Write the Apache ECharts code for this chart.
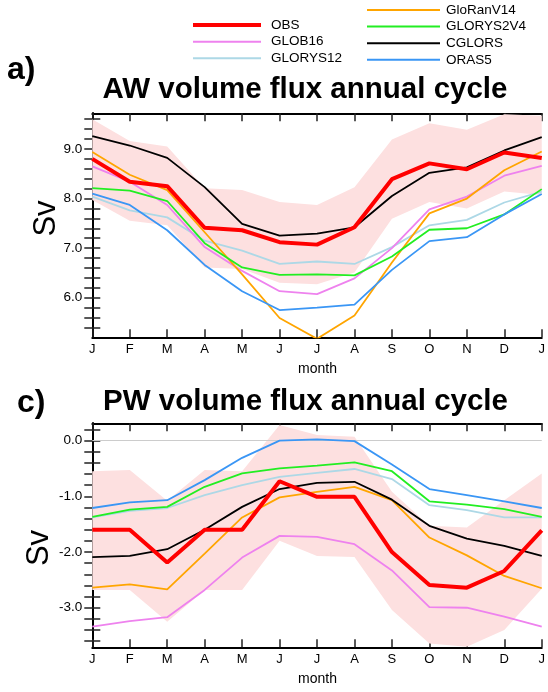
<!DOCTYPE html>
<html><head><meta charset="utf-8">
<script src="https://cdn.jsdelivr.net/npm/echarts@6/dist/echarts.min.js"></script>
<style>html,body{margin:0;padding:0;background:#fff}#c{width:548px;height:692px}</style>
</head><body><div id="c"></div>
<script>
const months = ['J','F','M','A','M','J','J','A','S','O','N','D','J'];
const names = ['OBS','GLOB16','GLORYS12','GloRanV14','GLORYS2V4','CGLORS','ORAS5'];

// AW volume flux (Sv)
const awOBS       = [8.80,8.34,8.25,7.41,7.36,7.12,7.07,7.42,8.39,8.71,8.59,8.93,8.82];
const awGLOB16    = [8.65,8.34,7.87,7.02,6.54,6.13,6.07,6.39,7.00,7.78,8.04,8.46,8.66];
const awGLORYS12  = [8.04,7.76,7.62,7.15,6.95,6.68,6.73,6.68,7.02,7.46,7.57,7.92,8.14];
const awGloRanV14 = [8.94,8.48,8.17,7.32,6.47,5.59,5.17,5.64,6.71,7.70,8.00,8.57,8.95];
const awGLORYS2V4 = [8.21,8.16,7.95,7.10,6.61,6.46,6.47,6.45,6.83,7.37,7.40,7.68,8.19];
const awCGLORS    = [9.26,9.07,8.82,8.23,7.49,7.25,7.29,7.42,8.05,8.52,8.63,8.97,9.24];
const awORAS5     = [8.10,7.87,7.36,6.66,6.13,5.75,5.80,5.86,6.56,7.14,7.22,7.68,8.09];
const awBandHi    = [9.60,9.16,9.05,8.21,8.17,7.93,7.87,8.23,9.19,9.52,9.39,9.70,9.67];
const awBandLo    = [7.97,7.55,7.46,6.61,6.58,6.30,6.27,6.51,7.59,7.93,7.80,8.14,8.07];

// PW volume flux (Sv)
const pwOBS       = [-1.60,-1.60,-2.19,-1.60,-1.60,-0.73,-1.01,-1.01,-2.00,-2.59,-2.64,-2.34,-1.61];
const pwGLOB16    = [-3.34,-3.24,-3.17,-2.68,-2.10,-1.71,-1.73,-1.86,-2.33,-2.99,-3.00,-3.16,-3.34];
const pwGLORYS12  = [-1.38,-1.26,-1.21,-0.98,-0.80,-0.65,-0.58,-0.51,-0.69,-1.16,-1.25,-1.38,-1.38];
const pwGloRanV14 = [-2.64,-2.58,-2.67,-2.03,-1.38,-1.02,-0.92,-0.83,-1.07,-1.74,-2.06,-2.43,-2.65];
const pwGLORYS2V4 = [-1.37,-1.24,-1.19,-0.83,-0.59,-0.50,-0.45,-0.39,-0.55,-1.09,-1.15,-1.23,-1.37];
const pwCGLORS    = [-2.09,-2.07,-1.95,-1.60,-1.19,-0.87,-0.76,-0.74,-1.06,-1.53,-1.76,-1.89,-2.07];
const pwORAS5     = [-1.21,-1.11,-1.07,-0.71,-0.31,0.00,0.02,-0.01,-0.43,-0.87,-0.98,-1.09,-1.21];
const pwBandHi    = [-0.55,-0.53,-1.08,-0.53,-0.55,0.28,0.10,0.07,-0.92,-1.53,-1.56,-1.07,-0.59];
const pwBandLo    = [-2.68,-2.68,-3.25,-2.68,-2.68,-1.80,-2.07,-2.09,-3.04,-3.64,-3.70,-3.40,-2.66];

// axis ticks
const awMajor = [6.0,7.0,8.0,9.0];
const awMinor = [5.4,5.6,5.8,6.0,6.2,6.4,6.6,6.8,7.0,7.2,7.4,7.6,7.8,8.0,8.2,8.4,8.6,8.8,9.0,9.2,9.4,9.6];
const pwMajor = [-3.0,-2.0,-1.0,0.0];
const pwMinor = [-3.6,-3.4,-3.2,-3.0,-2.8,-2.6,-2.4,-2.2,-2.0,-1.8,-1.6,-1.4,-1.2,-1.0,-0.8,-0.6,-0.4,-0.2,0.0,0.2];

const colors = {OBS:'#ff0000',GLOB16:'#ee82ee',GLORYS12:'#add8e6',GloRanV14:'#ffa500',GLORYS2V4:'#22ee22',CGLORS:'#000000',ORAS5:'#3a96f5'};
const awData = {OBS:awOBS,GLOB16:awGLOB16,GLORYS12:awGLORYS12,GloRanV14:awGloRanV14,GLORYS2V4:awGLORYS2V4,CGLORS:awCGLORS,ORAS5:awORAS5};
const pwData = {OBS:pwOBS,GLOB16:pwGLOB16,GLORYS12:pwGLORYS12,GloRanV14:pwGloRanV14,GLORYS2V4:pwGLORYS2V4,CGLORS:pwCGLORS,ORAS5:pwORAS5};
const FONT = "'Liberation Sans', Arial, Helvetica, sans-serif";
const drawOrder = ['GLORYS12','GLOB16','GloRanV14','GLORYS2V4','ORAS5','CGLORS','OBS'];

function xAxes(grid){
  const base = {type:'value',gridIndex:grid,min:0,max:12,interval:1,
    axisLine:{show:true,onZero:false,lineStyle:{color:'#000',width:2}},
    axisTick:{show:true,inside:true,length:8,lineStyle:{color:'#222',width:1.5}},
    splitLine:{show:false}};
  return [
    Object.assign({}, base, {position:'bottom',
      axisLabel:{show:true,formatter:v=>months[v]||'',fontSize:13,color:'#000',margin:6,fontFamily:FONT}}),
    Object.assign({}, base, {position:'top',axisLabel:{show:false}})
  ];
}
function yAxes(grid,min,max,major,minor){
  const base = {type:'value',gridIndex:grid,min:min,max:max,
    axisLine:{show:true,lineStyle:{color:'#000',width:2}},
    axisTick:{show:true,inside:false,length:-8,customValues:minor,lineStyle:{color:'#222',width:1.5}},
    splitLine:{show:false}};
  return [
    Object.assign({}, base, {position:'left',
      axisLabel:{show:true,customValues:major,formatter:v=>v.toFixed(1),fontSize:13.5,color:'#000',margin:10,fontFamily:FONT}}),
    Object.assign({}, base, {position:'right',axisLabel:{show:false}})
  ];
}
function band(xi,yi,hi,lo){
  return {type:'custom',xAxisIndex:xi,yAxisIndex:yi,clip:true,silent:true,z:1,
    data:[[0,lo[0]]],
    renderItem:function(params,api){
      const pts=[];
      hi.forEach((v,i)=>pts.push(api.coord([i,v])));
      for(let i=lo.length-1;i>=0;i--) pts.push(api.coord([i,lo[i]]));
      return {type:'polygon',shape:{points:pts},style:{fill:'#fde0e0'}};
    }};
}
const series=[band(0,0,awBandHi,awBandLo), band(2,2,pwBandHi,pwBandLo)];
drawOrder.forEach((n,k)=>{
  [[awData,0],[pwData,2]].forEach(([d,ax])=>{
    const s={type:'line',name:n,xAxisIndex:ax,yAxisIndex:ax,
      data:d[n].map((v,i)=>[i,v]),symbol:'none',showSymbol:false,clip:true,
      lineStyle:{color:colors[n],width:n==='OBS'?4:1.8},itemStyle:{color:colors[n]},
      z:3+k,silent:true,animation:false};
    if(ax===2 && n==='GLORYS12'){
      s.markLine={silent:true,symbol:'none',label:{show:false},animation:false,
        lineStyle:{color:'#cccccc',width:1,type:'solid'},data:[{yAxis:0}]};
    }
    series.push(s);
  });
});

const legText = {fontSize:13.5,color:'#000',fontFamily:FONT,lineHeight:16.6};
const option = {
  animation:false,
  backgroundColor:'#fff',
  grid:[{left:92.3,top:113.3,width:450.4,height:224},{left:92.3,top:423.3,width:450.4,height:224}],
  xAxis:[...xAxes(0),...xAxes(1)],
  yAxis:[...yAxes(0,5.2,9.72,awMajor,awMinor),...yAxes(1,-3.71,0.31,pwMajor,pwMinor)],
  legend:[
    {data:['OBS'],orient:'vertical',left:193,top:16.7,padding:0,itemGap:0,icon:'rect',itemWidth:68,itemHeight:4,selectedMode:false,
      textStyle:Object.assign({padding:[0,0,0,5]},legText)},
    {data:['GLOB16','GLORYS12'],orient:'vertical',left:193,top:33.4,padding:0,itemGap:0,icon:'rect',itemWidth:68,itemHeight:2,selectedMode:false,
      textStyle:Object.assign({padding:[0,0,0,5]},legText)},
    {data:['GloRanV14','GLORYS2V4','CGLORS','ORAS5'],orient:'vertical',left:367,top:1.7,padding:0,itemGap:0,icon:'rect',itemWidth:73,itemHeight:2,selectedMode:false,
      textStyle:Object.assign({padding:[0,0,0,1]},legText)}
  ],
  graphic:[
    {type:'text',x:7,y:70,style:{text:'a)',font:"bold 32px "+FONT,fill:'#000',textAlign:'left',textVerticalAlign:'middle',align:'left',verticalAlign:'middle'}},
    {type:'text',x:305,y:90,style:{text:'AW volume flux annual cycle',font:"bold 29.5px "+FONT,fill:'#000',textAlign:'center',textVerticalAlign:'middle',align:'center',verticalAlign:'middle'}},
    {type:'text',x:17,y:403,style:{text:'c)',font:"bold 32px "+FONT,fill:'#000',textAlign:'left',textVerticalAlign:'middle',align:'left',verticalAlign:'middle'}},
    {type:'text',x:305.5,y:402,style:{text:'PW volume flux annual cycle',font:"bold 29.5px "+FONT,fill:'#000',textAlign:'center',textVerticalAlign:'middle',align:'center',verticalAlign:'middle'}},
    {type:'text',x:46,y:218.5,rotation:Math.PI/2,style:{text:'Sv',font:"31px "+FONT,fill:'#000',textAlign:'center',textVerticalAlign:'middle',align:'center',verticalAlign:'middle'}},
    {type:'text',x:39,y:548,rotation:Math.PI/2,style:{text:'Sv',font:"31px "+FONT,fill:'#000',textAlign:'center',textVerticalAlign:'middle',align:'center',verticalAlign:'middle'}},
    {type:'text',x:317.5,y:369,style:{text:'month',font:"14px "+FONT,fill:'#000',textAlign:'center',textVerticalAlign:'middle',align:'center',verticalAlign:'middle'}},
    {type:'text',x:317.5,y:679,style:{text:'month',font:"14px "+FONT,fill:'#000',textAlign:'center',textVerticalAlign:'middle',align:'center',verticalAlign:'middle'}}
  ],
  series:series
};
const chart = echarts.init(document.getElementById('c'),null,{renderer:'canvas'});
chart.setOption(option);
</script>
</body></html>
